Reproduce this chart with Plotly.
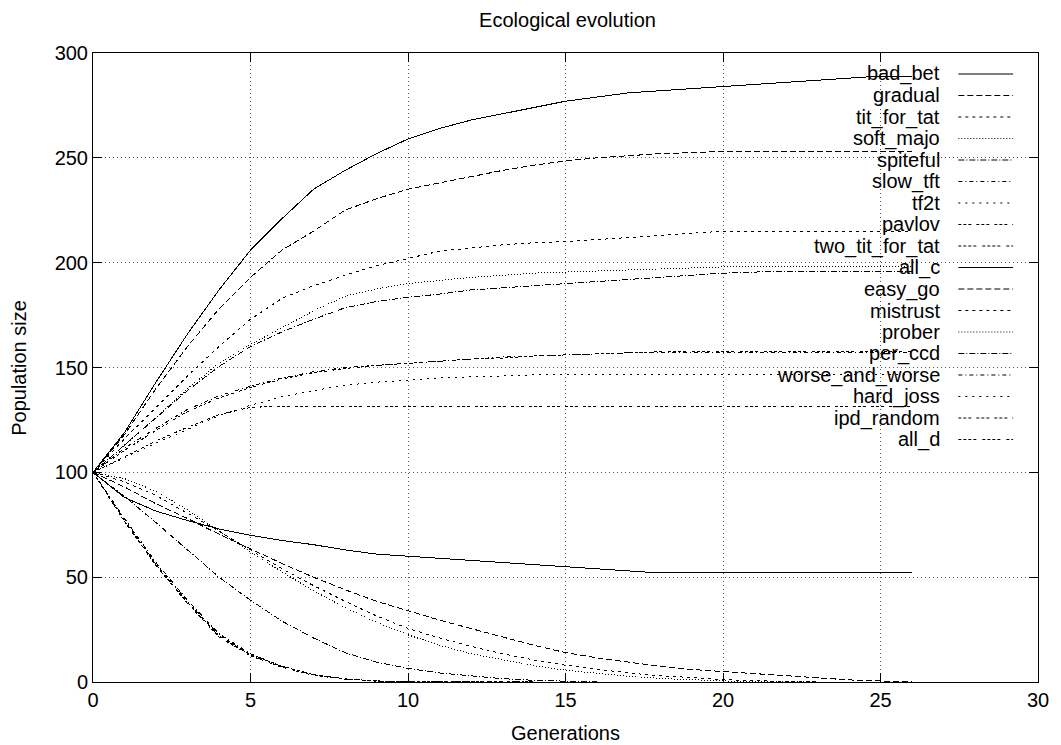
import plotly.graph_objects as go

# ---------------- data ----------------
generations = list(range(27))

names = ["bad_bet", "gradual", "tit_for_tat", "soft_majo", "spiteful", "slow_tft",
         "tf2t", "pavlov", "two_tit_for_tat", "all_c", "easy_go", "mistrust",
         "prober", "per_ccd", "worse_and_worse", "hard_joss", "ipd_random", "all_d"]

bad_bet = [100, 119, 143, 166, 187, 206, 221, 235, 244, 252, 259, 264, 268, 271, 274, 277,
           279, 281, 282, 283, 284, 285, 286, 287, 288, 289, 289]
gradual = [100, 118, 140, 160, 178, 193, 206, 215, 225, 230.5, 235, 238, 241, 244, 246.5, 248.5,
           250, 251, 252, 252.5, 253, 253, 253, 253, 253, 253, 253]
tit_for_tat = [100, 116, 131, 146, 160, 173, 183, 189, 194, 198.5, 202, 205.5, 207, 208.5, 209.5, 210,
               211, 212, 213, 214, 215, 215, 215, 215, 215, 215, 215]
soft_majo = [100, 113, 126, 140, 152, 161, 169, 177, 184, 187.5, 190, 191.5, 193, 194, 195, 195.5,
             196, 196.5, 197, 197.5, 198, 198, 198, 198, 198, 198, 198]
spiteful = [100, 113, 126, 139, 150.5, 160, 167, 173, 178.5, 181.5, 183.5, 185, 187, 188, 189, 190,
            191, 192, 193, 194, 195, 195.5, 196, 196, 196, 196, 196]
slow_tft = [100, 111.5, 121, 130, 136.5, 141, 145, 148, 150, 151, 152, 153, 154, 155, 155.5, 156,
            156.5, 157, 157, 157, 157, 157, 157, 157, 157, 157, 157]
tf2t = [100, 107, 114, 120.5, 127, 132, 136, 139, 141.5, 143, 144, 145, 145.5, 146, 146.5, 146.5,
        146.5, 146.5, 146.5, 146.5, 146.5, 146.5, 146.5, 146.5, 146.5, 146.5, 146.5]
pavlov = [100, 107.5, 115, 121.5, 127.5, 131, 131.5, 131.6, 131.6, 131.6, 131.6, 131.6, 131.6, 131.6,
          131.6, 131.6, 131.6, 131.6, 131.6, 131.6, 131.6, 131.6, 131.6, 131.6, 131.6, 131.6, 131.6]
two_tit_for_tat = [100, 110.5, 120, 129, 135.5, 140.5, 144.5, 147.5, 149.5, 151, 152, 153, 154, 154.5,
                   155.5, 156, 156.5, 157, 157.5, 157.5, 157.5, 157.5, 157.5, 157.5, 157.5, 157.5, 157.5]
all_c = [100, 88, 81.5, 77, 73, 70, 67.5, 65.5, 63, 61, 60, 59, 58, 57, 56, 55,
         54, 53, 52, 52, 52, 52, 52, 52, 52, 52, 52]
easy_go = [100, 93, 85, 78, 70.5, 63.5, 56.5, 50, 44, 38.5, 34, 29.5, 25.5, 21.5, 17.5, 14,
           11.5, 9.5, 7.5, 6, 5, 3.8, 2.8, 1.8, 1, 0.5, 0.3]
mistrust = [100, 95.5, 89, 80.5, 72, 63, 54, 46, 38.5, 31.5, 25.5, 21, 17, 13.5, 10.5, 8,
            6, 4.3, 3, 2, 1.2, 0.6, 0.2, 0, 0, 0, 0]
prober = [100, 97, 91, 82, 72, 62, 52.5, 43.5, 35.5, 28.5, 22.5, 17.5, 13.5, 10.5, 7.8, 5.6,
          4, 2.7, 1.7, 1, 0.5, 0.2, 0, 0, 0, 0, 0]
per_ccd = [100, 88.5, 76, 63, 50, 39, 29, 21, 14, 9.5, 6.5, 4.3, 2.8, 1.6, 0.8, 0.3,
           0, 0, 0, 0, 0, 0, 0, 0, 0, 0, 0]
worse_and_worse = [100, 78, 57, 39, 23, 13.5, 7.5, 3.5, 1.5, 0.5, 0.2, 0, 0, 0, 0, 0,
                   0, 0, 0, 0, 0, 0, 0, 0, 0, 0, 0]
hard_joss = [100, 77.5, 56.5, 38.5, 22.5, 13, 7.5, 3.5, 1.5, 0.5, 0.1, 0, 0, 0, 0, 0,
             0, 0, 0, 0, 0, 0, 0, 0, 0, 0, 0]
ipd_random = [100, 77, 56, 38, 22, 13, 7.5, 3.5, 1.5, 0.5, 0.1, 0, 0, 0, 0, 0,
              0, 0, 0, 0, 0, 0, 0, 0, 0, 0, 0]
all_d = [100, 76.5, 55.5, 37.5, 21.5, 12.5, 7, 3.2, 1.3, 0.4, 0, 0, 0, 0, 0, 0,
         0, 0, 0, 0, 0, 0, 0, 0, 0, 0, 0]

series = [bad_bet, gradual, tit_for_tat, soft_majo, spiteful, slow_tft, tf2t, pavlov,
          two_tit_for_tat, all_c, easy_go, mistrust, prober, per_ccd, worse_and_worse,
          hard_joss, ipd_random, all_d]

x_ticks = [0, 5, 10, 15, 20, 25, 30]
y_ticks = [0, 50, 100, 150, 200, 250, 300]

# gnuplot-like dash types (cycle of 9)
dash_types = ["solid", "6px,3px", "3px,4px", "1px,2px", "6px,2px,1px,2px",
              "4px,3px,1px,3px", "2px,5px", "3px,2px,3px,2px,3px,5px",
              "3px,2px,3px,2px,3px,2px,3px,6px"]

FONT = "Liberation Sans, Arial, Helvetica, sans-serif"

W, H = 1061, 745
L, R, T, B = 93, 1042, 53, 682   # plot area in pixels

fig = go.Figure()
for i, (name, ys) in enumerate(zip(names, series)):
    fig.add_trace(go.Scatter(
        x=generations, y=ys, mode="lines", name=name, showlegend=False,
        line=dict(color="black", width=1, dash=dash_types[i % 9]),
        hoverinfo="skip"))

def px_x(p):
    return (p - L) / (R - L)

def px_y(p):
    return (B - p) / (B - T)

shapes = []
annotations = []
# blank key area hides grid lines (drawn between grid and traces)
shapes.append(dict(type="rect", xref="paper", yref="paper",
                   x0=px_x(757), x1=1, y0=px_y(443), y1=1,
                   fillcolor="white", line=dict(width=0), layer="between"))
row0, row_h = 74, 21.5
for i, name in enumerate(names):
    yc = row0 + row_h * i
    annotations.append(dict(text=name, xref="paper", yref="paper",
                            x=px_x(946), y=px_y(yc), xanchor="right", yanchor="middle",
                            showarrow=False, font=dict(family=FONT, size=20, color="black")))
    shapes.append(dict(type="line", xref="paper", yref="paper",
                       x0=px_x(962), x1=px_x(1017), y0=px_y(yc), y1=px_y(yc),
                       line=dict(color="black", width=1, dash=dash_types[i % 9]),
                       layer="above"))

annotations.append(dict(text="Generations", xref="paper", yref="paper",
                        x=0.5, y=px_y(733), xanchor="center", yanchor="middle",
                        showarrow=False, font=dict(family=FONT, size=20, color="black")))
annotations.append(dict(text="Population size", xref="paper", yref="paper",
                        x=px_x(18), y=0.5, xanchor="center", yanchor="middle", textangle=-90,
                        showarrow=False, font=dict(family=FONT, size=20, color="black")))

axis_common = dict(showline=True, linecolor="black", linewidth=1, mirror="allticks",
                   ticks="inside", ticklen=9, tickcolor="black", tickwidth=1,
                   showgrid=True, gridcolor="#555", gridwidth=1, griddash="1px,3px",
                   zeroline=False, tickfont=dict(family=FONT, size=20, color="black"))

fig.update_layout(
    width=W, height=H,
    margin=dict(l=L, r=W - R, t=T, b=H - B, pad=0),
    paper_bgcolor="white", plot_bgcolor="white",
    title=dict(text="Ecological evolution", x=0.5 * (L + R) / W, xanchor="center",
               y=1 - 20 / H, yanchor="middle", yref="container",
               font=dict(family=FONT, size=20, color="black")),
    xaxis=dict(range=[0, 30], tickvals=x_ticks, **axis_common),
    yaxis=dict(range=[0, 300], tickvals=y_ticks, **axis_common),
    shapes=shapes, annotations=annotations,
    font=dict(family=FONT, size=20, color="black"),
)

fig.write_html("out.html", config={"displayModeBar": False},
               post_script="document.body.style.margin='0';document.body.style.padding='0';"
                           "document.body.style.overflow='hidden';"
                           "document.querySelectorAll('.scatterlayer path.js-line').forEach("
                           "function(p){p.style.shapeRendering='crispEdges';});")
